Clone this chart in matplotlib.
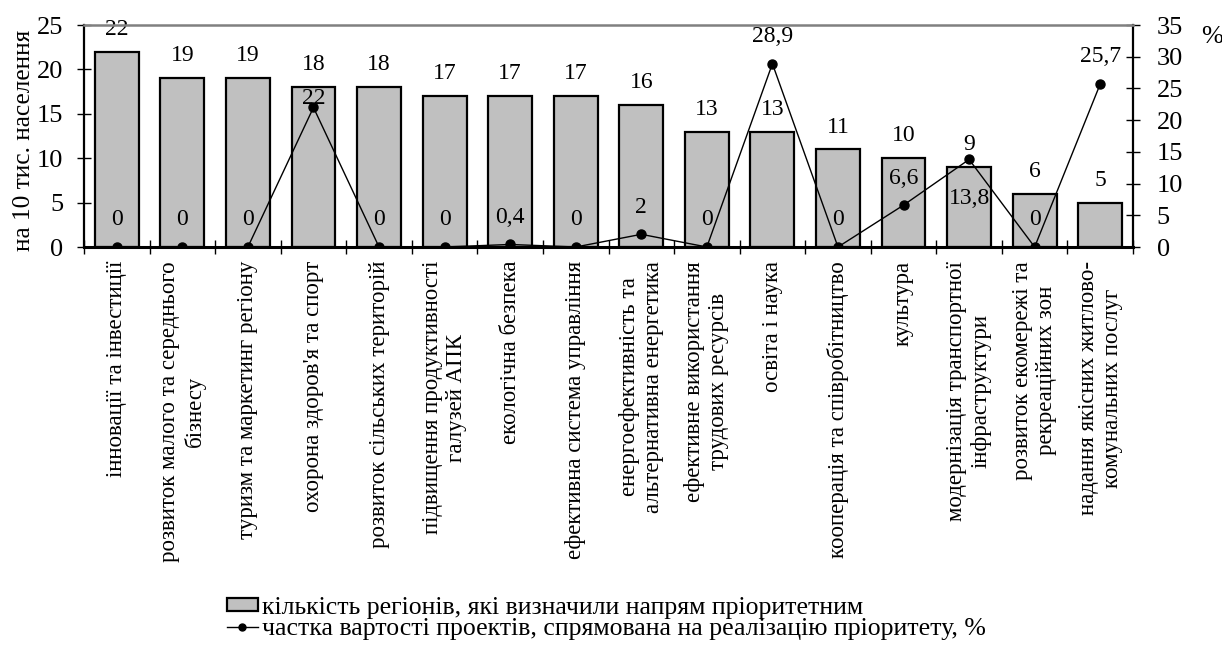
import matplotlib
matplotlib.use('Agg')
import matplotlib.pyplot as plt
import numpy as np
from matplotlib.patches import Patch
from matplotlib.lines import Line2D

plt.rcParams['font.family'] = ['Liberation Serif', 'DejaVu Serif']

categories = [
    'інновації та інвестиції',
    'розвиток малого та середнього\nбізнесу',
    'туризм та маркетинг регіону',
    "охорона здоров'я та спорт",
    'розвиток сільських територій',
    'підвищення продуктивності\nгалузей АПК',
    'екологічна безпека',
    'ефективна система управління',
    'енергоефективність та\nальтернативна енергетика',
    'ефективне використання\nтрудових ресурсів',
    'освіта і наука',
    'кооперація та співробітництво',
    'культура',
    'модернізація транспортної\nінфраструктури',
    'розвиток екомережі та\nрекреаційних зон',
    'надання якісних житлово-\nкомунальних послуг',
]
regions = [22, 19, 19, 18, 18, 17, 17, 17, 16, 13, 13, 11, 10, 9, 6, 5]
share = [0, 0, 0, 22, 0, 0, 0.4, 0, 2, 0, 28.9, 0, 6.6, 13.8, 0, 25.7]

legend_labels = [
    'кількість регіонів, які визначили напрям пріоритетним',
    'частка вартості проектів, спрямована на реалізацію пріоритету, %',
]

W, H = 1222, 653
fig = plt.figure(figsize=(W / 100, H / 100), dpi=100)
L, R, T, B = 84, 1133, 25, 247
ax = fig.add_axes([L / W, 1 - B / H, (R - L) / W, (B - T) / H])

x = np.arange(len(categories))
ax.bar(x, regions, width=0.67, color='#C0C0C0', edgecolor='black', linewidth=1.6, zorder=2)
ax.set_xlim(-0.5, len(categories) - 0.5)
ax.set_ylim(0, 25)
ax.set_yticks(range(0, 26, 5))

ax2 = ax.twinx()
ax2.set_ylim(0, 35)
ax2.set_yticks(range(0, 36, 5))
ax2.plot(x, share, color='black', lw=1.0, marker='o', ms=6.5, zorder=3)

for sp in ax.spines.values():
    sp.set_visible(False)
ax2.spines['top'].set_color('#808080')
ax2.spines['top'].set_linewidth(1.8)
ax2.spines['bottom'].set_linewidth(2.2)
ax2.spines['left'].set_linewidth(1.6)
ax2.spines['right'].set_linewidth(1.6)

fs_tick = 19
ax.tick_params(axis='y', direction='inout', length=10, width=1, labelsize=fs_tick, pad=10)
ax2.tick_params(axis='y', direction='inout', length=10, width=1, labelsize=fs_tick, pad=12)

ax.set_xticks(x)
ax.set_xticklabels(categories, rotation=90, ha='center', va='top',
                   multialignment='center', fontsize=16.5)
ax.tick_params(axis='x', which='major', length=0, pad=10)
ax.set_xticks(np.arange(-0.5, len(categories), 1), minor=True)
ax.tick_params(axis='x', which='minor', direction='inout', length=10, width=1)

# bar value labels
for xi, v in zip(x, regions):
    ax.annotate(str(v), (xi, v), xytext=(0, 8.5), textcoords='offset points',
                ha='center', va='bottom', fontsize=17, zorder=5)

# line value labels
special = {3: 6.5, 13: -28}
for xi, v in zip(x, share):
    txt = ('%g' % v).replace('.', ',')
    off = special.get(xi, 19.5)
    ax2.annotate(txt, (xi, v), xytext=(0, off), textcoords='offset points',
                 ha='center', va='center', fontsize=17, zorder=5)

fig.text(24 / W, 1 - 140 / H, 'на 10 тис. населення', rotation=90,
         ha='center', va='center', fontsize=18.3)
fig.text(1212 / W, 1 - 37 / H, '%', ha='center', va='center', fontsize=fs_tick)

handles = [
    Patch(facecolor='#C0C0C0', edgecolor='black', linewidth=1.6),
    Line2D([0], [0], color='black', lw=1.0, marker='o', ms=5),
]
fig.legend(handles, legend_labels, loc='upper left',
           bbox_to_anchor=(227 / W, 1 - 597 / H), frameon=False, fontsize=18.5,
           handlelength=1.2, handleheight=0.4, handletextpad=0.15,
           borderpad=0, borderaxespad=0, labelspacing=-0.05)

fig.savefig('out.png', dpi=100)
